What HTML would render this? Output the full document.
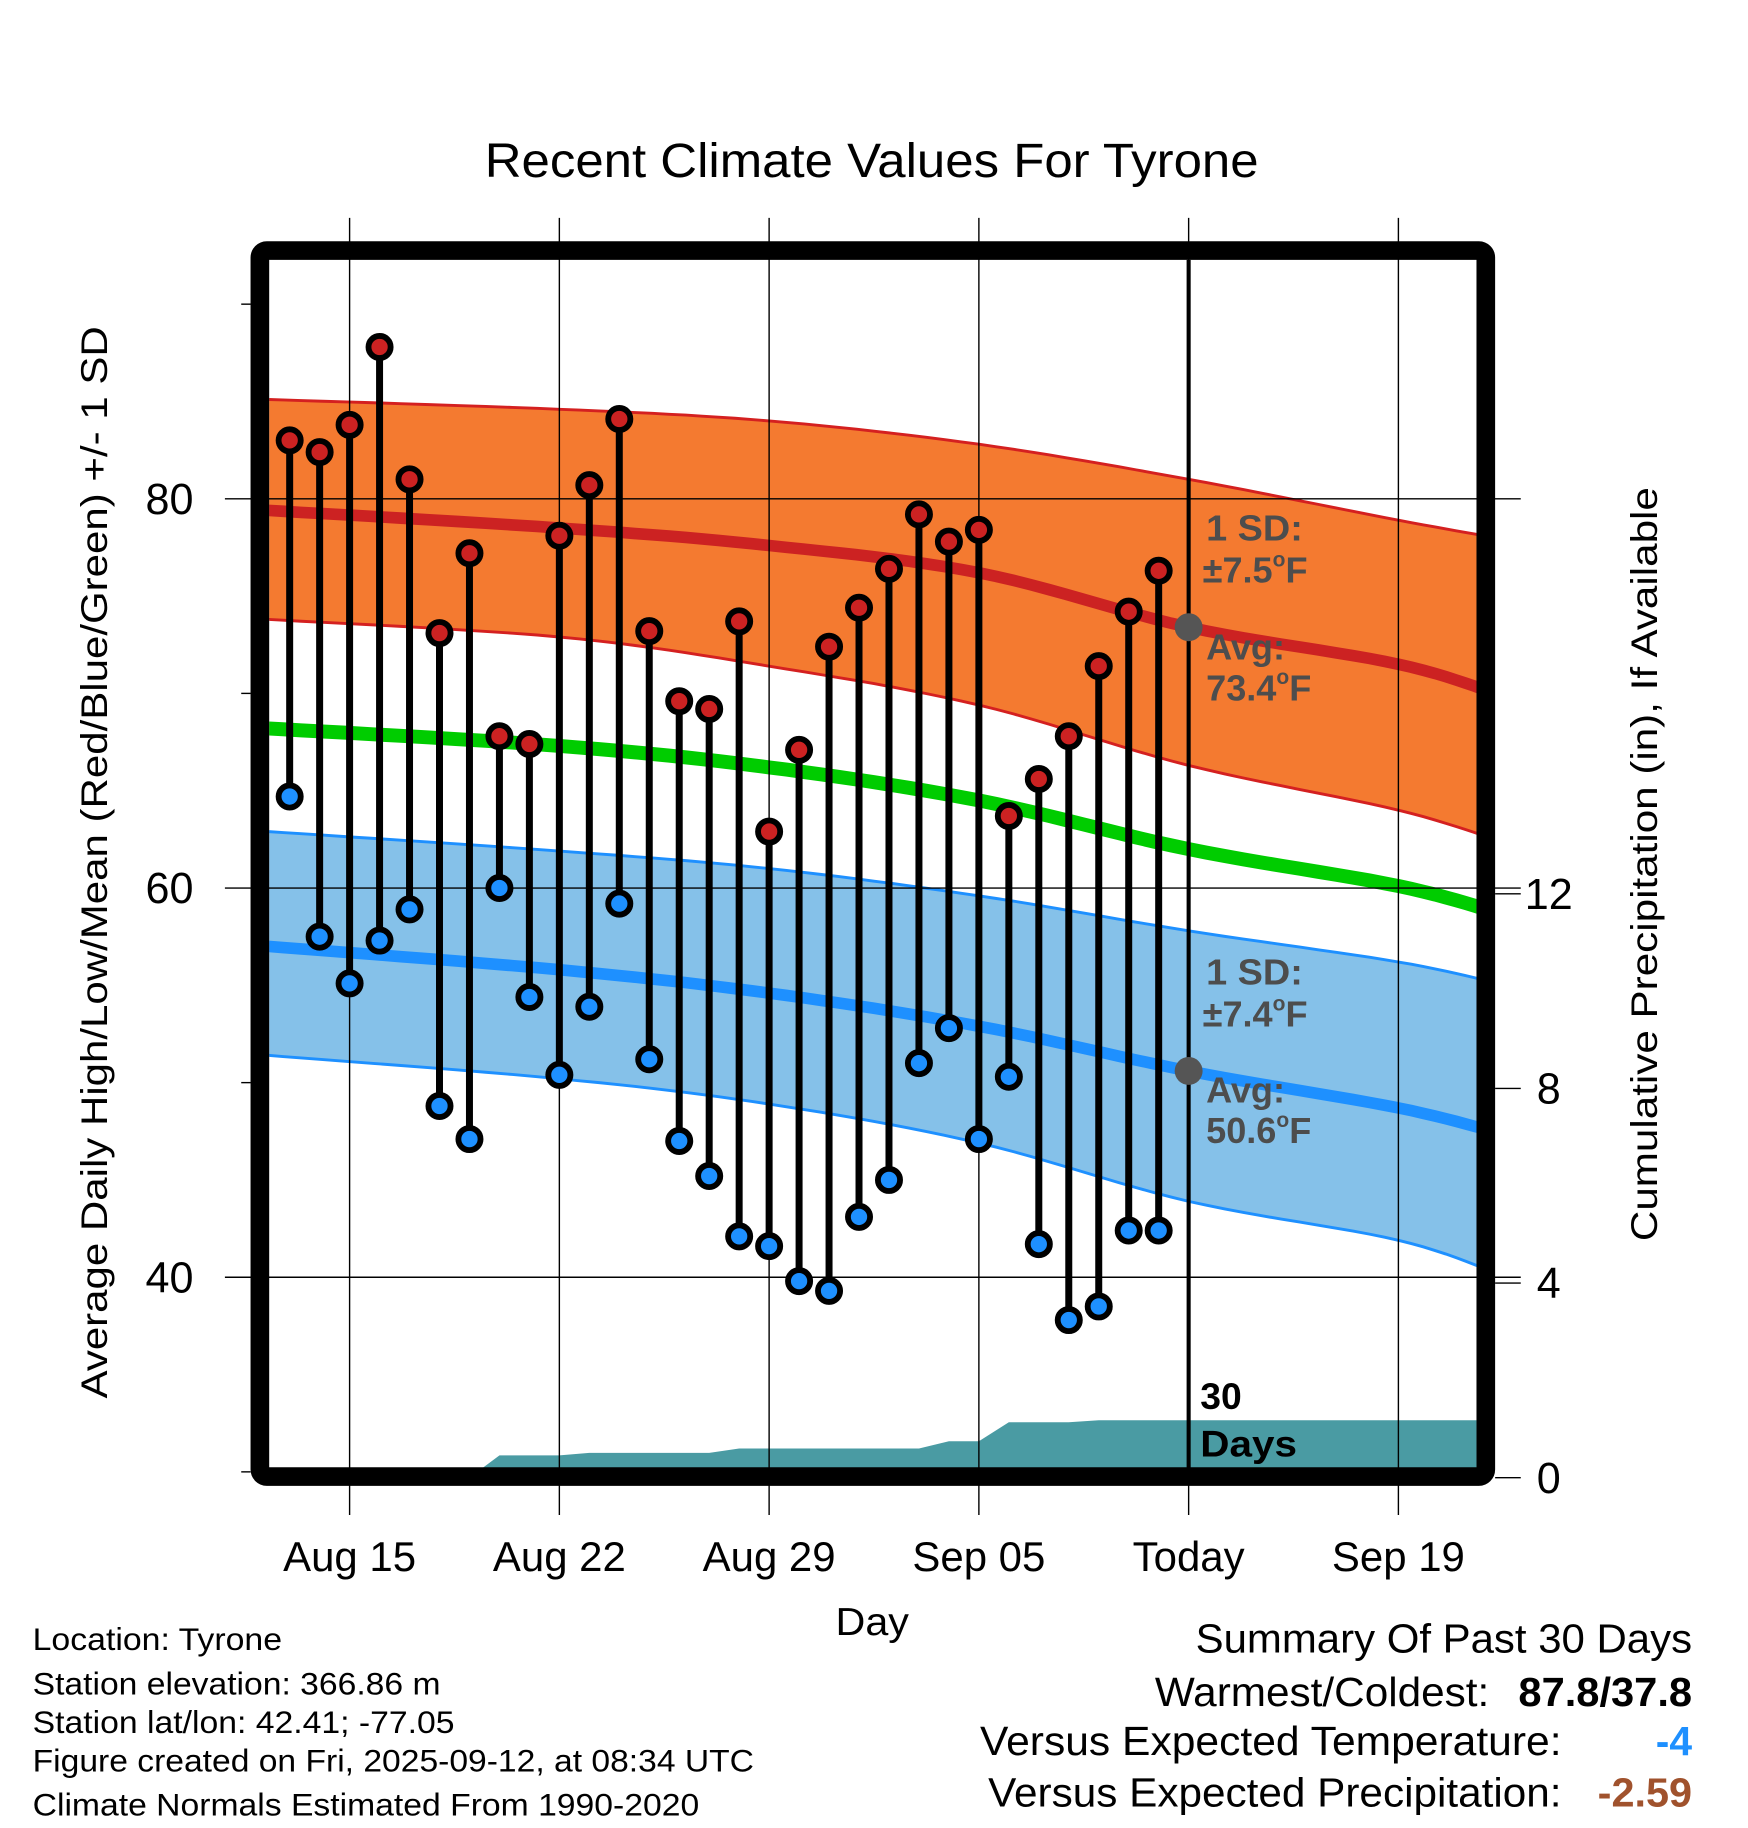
<!DOCTYPE html>
<html><head><meta charset="utf-8"><style>
html,body{margin:0;padding:0;background:#fff;}
svg{display:block;font-family:"Liberation Sans",Arial,sans-serif;}
</style></head><body>
<svg id="chart" width="1748" height="1828" viewBox="0 0 1500 1568.6" preserveAspectRatio="none" xmlns="http://www.w3.org/2000/svg">
<text x="416" y="152" font-size="41" textLength="664" lengthAdjust="spacingAndGlyphs">Recent Climate Values For Tyrone</text>
<g id="bands"></g>
<g id="grid"></g>
<g id="marks"></g>
<g id="annot" font-weight="bold" fill="#4d4d4d" font-size="31">
<text x="1035" y="464" textLength="83" lengthAdjust="spacingAndGlyphs">1 SD:</text>
<text x="1032" y="500">±7.5<tspan font-size="18" dy="-14">o</tspan><tspan dy="14">F</tspan></text>
<text x="1035" y="566">Avg:</text>
<text x="1035" y="601">73.4<tspan font-size="18" dy="-14">o</tspan><tspan dy="14">F</tspan></text>
<text x="1035" y="845" textLength="83" lengthAdjust="spacingAndGlyphs">1 SD:</text>
<text x="1032" y="881">±7.4<tspan font-size="18" dy="-14">o</tspan><tspan dy="14">F</tspan></text>
<text x="1035" y="946">Avg:</text>
<text x="1035" y="981">50.6<tspan font-size="18" dy="-14">o</tspan><tspan dy="14">F</tspan></text>
</g>
<text x="1030" y="1209" font-size="32" font-weight="bold">30</text>
<text x="1030" y="1250" font-size="32" font-weight="bold" textLength="83" lengthAdjust="spacingAndGlyphs">Days</text>
<rect x="223" y="215" width="1052" height="1052" rx="6" fill="none" stroke="#000" stroke-width="16"/>
<g id="axes" font-size="37"></g>
<text x="717" y="1403" font-size="33" textLength="63" lengthAdjust="spacingAndGlyphs">Day</text>
<text transform="translate(92,1200) rotate(-90)" font-size="32" textLength="920" lengthAdjust="spacingAndGlyphs">Average Daily High/Low/Mean (Red/Blue/Green) +/- 1 SD</text>
<text transform="translate(1422,1065) rotate(-90)" font-size="32" textLength="647" lengthAdjust="spacingAndGlyphs">Cumulative Precipitation (in), If Available</text>
<g font-size="27">
<text x="28" y="1416" textLength="214" lengthAdjust="spacingAndGlyphs">Location: Tyrone</text>
<text x="28" y="1454" textLength="350" lengthAdjust="spacingAndGlyphs">Station elevation: 366.86 m</text>
<text x="28" y="1487" textLength="362" lengthAdjust="spacingAndGlyphs">Station lat/lon: 42.41; -77.05</text>
<text x="28" y="1520" textLength="619" lengthAdjust="spacingAndGlyphs">Figure created on Fri, 2025-09-12, at 08:34 UTC</text>
<text x="28" y="1558" textLength="572" lengthAdjust="spacingAndGlyphs">Climate Normals Estimated From 1990-2020</text>
</g>
<g font-size="35">
<text x="1026" y="1418" textLength="426" lengthAdjust="spacingAndGlyphs">Summary Of Past 30 Days</text>
<text x="991" y="1464" textLength="287" lengthAdjust="spacingAndGlyphs">Warmest/Coldest:</text>
<text x="1303" y="1464" font-weight="bold" textLength="149" lengthAdjust="spacingAndGlyphs">87.8/37.8</text>
<text x="841" y="1506" textLength="499" lengthAdjust="spacingAndGlyphs">Versus Expected Temperature:</text>
<text x="1452" y="1506" text-anchor="end" font-weight="bold" fill="#1e90ff">-4</text>
<text x="848" y="1550" textLength="492" lengthAdjust="spacingAndGlyphs">Versus Expected Precipitation:</text>
<text x="1371" y="1550" font-weight="bold" fill="#a0522d" textLength="81" lengthAdjust="spacingAndGlyphs">-2.59</text>
</g>
</svg>
<script>
// day numbers: Aug 15 = 0
const normDays = [-2.7, 7, 14, 21, 28, 35, 38.6];
const highUpper = [85.1, 84.6, 84.0, 82.8, 81.0, 78.9, 77.9];
const highMean = [79.4, 78.5, 77.6, 76.2, 73.4, 71.5, 69.8];
const highLower = [73.8, 72.9, 71.4, 69.4, 66.3, 64.0, 62.3];
const meanTemp = [68.2, 67.3, 66.2, 64.5, 62.0, 60.1, 58.6];
const lowUpper = [62.9, 61.9, 61.0, 59.6, 57.8, 56.2, 55.0];
const lowMean = [57.0, 55.8, 54.6, 52.9, 50.6, 48.7, 47.3];
const lowLower = [51.4, 50.2, 48.9, 46.9, 43.9, 41.9, 40.0];
const obsStartDay = -2; // Aug 13
const highs = [83.0,82.4,83.8,87.8,81.0,73.1,77.2,67.8,67.4,78.1,80.7,84.1,73.2,69.6,69.2,73.7,62.9,67.1,72.4,74.4,76.4,79.2,77.8,78.4,63.7,65.6,67.8,71.4,74.2,76.3];
const lows = [64.7,57.5,55.1,57.3,58.9,48.8,47.1,60.0,54.4,50.4,53.9,59.2,51.2,47.0,45.2,42.1,41.6,39.8,39.3,43.1,45.0,51.0,52.8,47.1,50.3,41.7,37.8,38.5,42.4,42.4];
const precip = [0,0,0,0,0,0,0,0.46,0.46,0.46,0.51,0.51,0.51,0.51,0.51,0.60,0.60,0.60,0.60,0.60,0.60,0.60,0.75,0.75,1.14,1.14,1.14,1.18,1.18,1.18];
const xTickDays = [0, 7, 14, 21, 28, 35];
const xTickLabels = ["Aug 15","Aug 22","Aug 29","Sep 05","Today","Sep 19"];
const yTicks = [40, 60, 80];
const yMinor = [30, 50, 70, 90];
const pTicks = [0, 4, 8, 12];
const todayDay = 28;
const highAvgToday = 73.4, lowAvgToday = 50.6;

const NS = "http://www.w3.org/2000/svg";
const X0 = 231, X1 = 1267, Y0 = 223, Y1 = 1260;
const xs = d => 300 + d * (180 / 7);
const ys = t => 428 + (80 - t) * 16.7;
const yp = p => 1268 - p * 41.75;
function mk(tag, attrs, parent) {
  const e = document.createElementNS(NS, tag);
  for (const k in attrs) e.setAttribute(k, attrs[k]);
  parent.appendChild(e); return e;
}
const bands = document.getElementById('bands');
const grid = document.getElementById('grid');
const marks = document.getElementById('marks');
const axes = document.getElementById('axes');
function smooth(vals) {
  const P = normDays.map((d, i) => [xs(d), ys(vals[i])]);
  const out = [];
  for (let i = 0; i < P.length - 1; i++) {
    const p0 = P[Math.max(0, i - 1)], p1 = P[i], p2 = P[i + 1], p3 = P[Math.min(P.length - 1, i + 2)];
    for (let s = 0; s < 12; s++) {
      const t = s / 12, t2 = t * t, t3 = t2 * t;
      const f = k => 0.5 * ((2 * p1[k]) + (-p0[k] + p2[k]) * t + (2 * p0[k] - 5 * p1[k] + 4 * p2[k] - p3[k]) * t2 + (-p0[k] + 3 * p1[k] - 3 * p2[k] + p3[k]) * t3);
      out.push(f(0).toFixed(1) + ',' + f(1).toFixed(1));
    }
  }
  const L = P[P.length - 1];
  out.push(L[0].toFixed(1) + ',' + L[1].toFixed(1));
  return out;
}
function bandPath(up, lo) { return 'M' + smooth(up).join('L') + 'L' + smooth(lo).reverse().join('L') + 'Z'; }

const clip = mk('clipPath', {id: 'plotclip'}, bands);
mk('rect', {x: X0, y: Y0, width: X1 - X0, height: Y1 - Y0}, clip);
const bg = mk('g', {'clip-path': 'url(#plotclip)'}, bands);

let pd = 'M' + xs(obsStartDay) + ',' + yp(0);
precip.forEach((p, i) => { pd += 'L' + xs(obsStartDay + i).toFixed(1) + ',' + yp(p).toFixed(1); });
pd += 'L' + X1 + ',' + yp(precip[precip.length - 1]).toFixed(1) + 'L' + X1 + ',' + yp(0) + 'Z';
let e = mk('path', {d: pd, fill: '#4a9ba3'}, bg);



e = mk('path', {d: bandPath(highUpper, highLower), fill: '#f47a30'}, bg);


e = mk('path', {d: bandPath(lowUpper, lowLower), fill: '#85c1e9'}, bg);


[[highUpper, '#d42020', 2.5, 'high-upper-edge'], [highLower, '#d42020', 2.5, 'high-lower-edge'],
 [lowUpper, '#1e90ff', 2.5, 'low-upper-edge'], [lowLower, '#1e90ff', 2.5, 'low-lower-edge'],
 [highMean, '#cc2222', 10, 'high-mean-line'], [meanTemp, '#00cc00', 12, 'mean-line'], [lowMean, '#1e90ff', 10, 'low-mean-line']
].forEach(([v, c, w, n]) => {
  const l = mk('polyline', {points: smooth(v).join(' '), fill: 'none', stroke: c, 'stroke-width': w}, bg);
  
  
});

xTickDays.forEach((d, i) => {
  const g = mk('line', {x1: xs(d), x2: xs(d), y1: 187, y2: 1300, stroke: '#000', 'stroke-width': 1.2}, grid);
  
  
  const t = mk('text', {x: xs(d), y: 1348, 'text-anchor': 'middle', 'font-size': 36}, axes);
  t.textContent = xTickLabels[i];
  
  
});
yTicks.forEach(v => {
  const g = mk('line', {x1: 193, x2: 1305, y1: ys(v), y2: ys(v), stroke: '#000', 'stroke-width': 1.2}, grid);
  
  
  const t = mk('text', {x: 166, y: ys(v) + 13, 'text-anchor': 'end'}, axes);
  t.textContent = v;
  
  
});
yMinor.forEach(v => {
  const g = mk('line', {x1: 207, x2: 215, y1: ys(v), y2: ys(v), stroke: '#000', 'stroke-width': 1.2}, grid);
  
  
});
pTicks.forEach(v => {
  const g = mk('line', {x1: 1283, x2: 1305, y1: yp(v), y2: yp(v), stroke: '#000', 'stroke-width': 1.2}, grid);
  
  
  const t = mk('text', {x: 1329, y: yp(v) + 13, 'text-anchor': 'middle'}, axes);
  t.textContent = v;
  
  
});

e = mk('line', {x1: xs(todayDay), x2: xs(todayDay), y1: Y0, y2: Y1, stroke: '#000', 'stroke-width': 3.5}, marks);



highs.forEach((h, i) => {
  const x = xs(obsStartDay + i);
  const s = mk('line', {x1: x, x2: x, y1: ys(h), y2: ys(lows[i]), stroke: '#000', 'stroke-width': 6}, marks);
  
  
});
highs.forEach((h, i) => {
  const x = xs(obsStartDay + i);
  const c1 = mk('circle', {cx: x, cy: ys(h), r: 9.5, fill: '#cc2222', stroke: '#000', 'stroke-width': 5}, marks);
  
  
  const c2 = mk('circle', {cx: x, cy: ys(lows[i]), r: 9.5, fill: '#1e90ff', stroke: '#000', 'stroke-width': 5}, marks);
  
  
});
e = mk('circle', {cx: xs(todayDay), cy: ys(highAvgToday), r: 12, fill: '#555'}, marks);


e = mk('circle', {cx: xs(todayDay), cy: ys(lowAvgToday), r: 12, fill: '#555'}, marks);


</script>
</body></html>
